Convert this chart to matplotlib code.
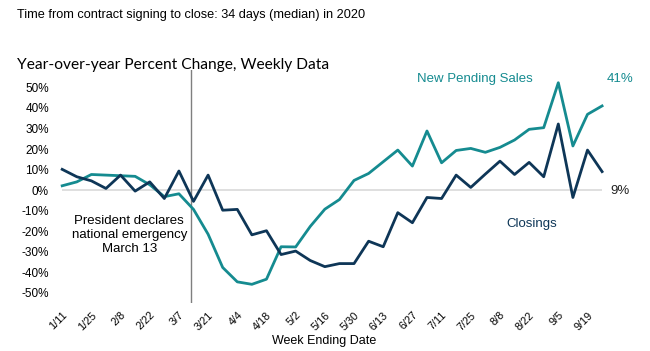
import matplotlib
matplotlib.use("Agg")
import matplotlib.pyplot as plt

# week ending dates, 1/11 .. 9/26 (38 weeks)
week_labels = ["1/11", "1/18", "1/25", "2/1", "2/8", "2/15", "2/22", "2/29", "3/7",
               "3/14", "3/21", "3/28", "4/4", "4/11", "4/18", "4/25", "5/2", "5/9",
               "5/16", "5/23", "5/30", "6/6", "6/13", "6/20", "6/27", "7/4", "7/11",
               "7/18", "7/25", "8/1", "8/8", "8/15", "8/22", "8/29", "9/5", "9/12",
               "9/19", "9/26"]

# year-over-year % change
closings = [10.1, 6.5, 4.5, 0.8, 7.3, -0.5, 4.0, -4.1, 9.3, -5.5, 7.3, -9.8, -9.4,
            -21.8, -19.8, -31.4, -29.7, -34.3, -37.3, -35.8, -35.8, -24.9, -27.6,
            -11.0, -15.9, -3.6, -4.1, 7.3, 1.3, 7.8, 14.1, 7.6, 13.5, 6.5, 32.2,
            -3.6, 19.5, 9.0]
pending = [2.1, 4.0, 7.6, 7.3, 7.0, 6.7, 2.6, -3.2, -1.8, -9.4, -21.5, -37.7, -44.7,
           -45.9, -43.4, -27.6, -27.7, -17.7, -9.3, -4.6, 4.7, 8.1, 13.8, 19.5, 11.7,
           28.8, 13.3, 19.3, 20.3, 18.4, 20.8, 24.4, 29.6, 30.4, 52.3, 21.5, 36.9, 41.0]

yticks = [-50, -40, -30, -20, -10, 0, 10, 20, 30, 40, 50]
emergency_week = 8 + 6 / 7  # March 13

teal = "#158b90"
navy = "#0e3657"

plt.rcParams["font.family"] = ["Liberation Sans", "DejaVu Sans"]

fig = plt.figure(figsize=(6.5, 3.51), dpi=100)
ax = fig.add_axes([60 / 650, 48 / 351, 545 / 650, 233 / 351])

x = list(range(len(week_labels)))
ax.hlines(0, x[0], x[-1], color="#d9d9d9", lw=1.2, zorder=1)
ax.axvline(emergency_week, color="#7f7f7f", lw=1, zorder=1)
ax.plot(x, closings, color=navy, lw=2, zorder=3)
ax.plot(x, pending, color=teal, lw=2, zorder=2)

ax.set_xlim(-0.15, 37.2)
ax.set_ylim(-55, 58.5)
ax.set_yticks(yticks)
ax.set_yticklabels([f"{v}%" for v in yticks], fontsize=8.5)
ax.set_xticks(x[::2])
ax.set_xticklabels(week_labels[::2], rotation=45, ha="right",
                   rotation_mode="anchor", fontsize=7.8)
ax.tick_params(length=0)
ax.tick_params(axis="y", pad=8)
ax.tick_params(axis="x", pad=5)
for s in ax.spines.values():
    s.set_visible(False)

ax.text(4.6, -22, "President declares\nnational emergency\nMarch 13", ha="center",
        va="center", fontsize=9.5, linespacing=1.2)
ax.text(28.3, 54, "New Pending Sales", color=teal, ha="center", va="center", fontsize=9.5)
ax.text(38.2, 54, "41%", color=teal, ha="center", va="center", fontsize=9.5)
ax.text(38.2, -0.5, "9%", color="#222222", ha="center", va="center", fontsize=9.5)
ax.text(32.2, -16.5, "Closings", color=navy, ha="center", va="center", fontsize=9.5)

fig.text(17 / 650, 1 - 15 / 351, "Time from contract signing to close: 34 days (median) in 2020",
         fontsize=9.2, va="center", ha="left")
fig.text(17 / 650, 1 - 65 / 351, "Year-over-year Percent Change, Weekly Data",
         fontsize=11.2, va="center", ha="left", family="Lato")
fig.text(324 / 650, 1 - 341 / 351, "Week Ending Date", fontsize=9, ha="center", va="center")

fig.savefig("out.png", dpi=100)
